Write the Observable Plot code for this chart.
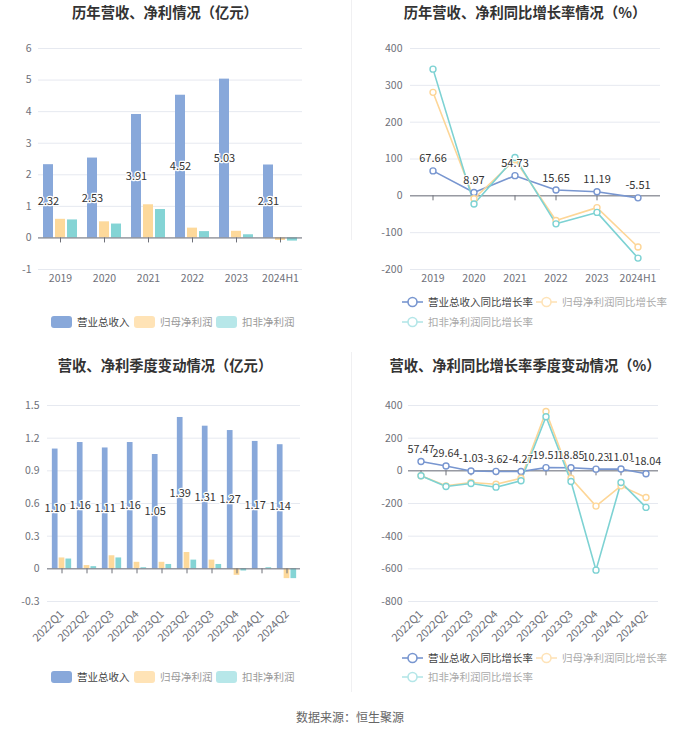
<!DOCTYPE html>
<html><head><meta charset="utf-8">
<script src="https://cdn.jsdelivr.net/npm/d3@7"></script>
<script src="https://cdn.jsdelivr.net/npm/@observablehq/plot@0.6"></script>
<style>
body{margin:0;background:#fff;font-family:"Noto Sans CJK SC","Noto Sans",sans-serif;}
#root{position:relative;width:700px;height:734px;overflow:hidden;background:#fff;}
.title{position:absolute;width:350px;text-align:center;font-size:14.3px;font-weight:bold;color:#333;line-height:20px;}
.panel{position:absolute;}
.item{position:absolute;display:flex;align-items:center;font-size:10.5px;white-space:nowrap;line-height:14px;}
.sw{display:inline-block;width:21px;height:12px;border-radius:3px;margin-right:5px;}
.divider{position:absolute;left:351px;width:1px;background:#f0f0f2;}
.footer{position:absolute;left:0;width:700px;text-align:center;top:708px;font-size:12px;color:#666;}
</style></head>
<body><div id="root"></div>
<script>
// ---- data ----
const years = ["2019","2020","2021","2022","2023","2024H1"];
const yearRevenue = [2.32,2.53,3.91,4.52,5.03,2.31];
const yearNetProfit = [0.59,0.51,1.05,0.31,0.21,-0.08];
const yearDeductedProfit = [0.57,0.44,0.90,0.20,0.10,-0.10];
const yearRevenueGrowth = [67.66,8.97,54.73,15.65,11.19,-5.51];
const yearNetProfitGrowth = [281,-8,98,-67,-32,-139];
const yearDeductedGrowth = [344,-22,104,-76,-45,-169];
const quarters = ["2022Q1","2022Q2","2022Q3","2022Q4","2023Q1","2023Q2","2023Q3","2023Q4","2024Q1","2024Q2"];
const qRevenue = [1.10,1.16,1.11,1.16,1.05,1.39,1.31,1.27,1.17,1.14];
const qNetProfit = [0.10,0.03,0.12,0.06,0.06,0.15,0.08,-0.06,0.00,-0.09];
const qDeductedProfit = [0.09,0.02,0.10,0.01,0.04,0.08,0.04,-0.02,0.01,-0.09];
const qRevenueGrowth = [57.47,29.64,-1.03,-3.62,-4.27,19.51,18.85,10.23,11.01,-18.04];
const qNetProfitGrowth = [-30,-92,-71,-82,-45,363,-45,-216,-92,-163];
const qDeductedGrowth = [-30,-96,-78,-100,-61,331,-65,-608,-71,-224];
const yearAmountTicks = [-1,0,1,2,3,4,5,6];
const yearRateTicks = [-200,-100,0,100,200,300,400];
const quarterAmountTicks = [-0.3,0,0.3,0.6,0.9,1.2,1.5];
const quarterRateTicks = [-800,-600,-400,-200,0,200,400];
const barSeriesNames = ["营业总收入","归母净利润","扣非净利润"];
const lineSeriesNames = ["营业总收入同比增长率","归母净利润同比增长率","扣非净利润同比增长率"];
const titles = ["历年营收、净利情况（亿元）","历年营收、净利同比增长率情况（%）","营收、净利季度变动情况（亿元）","营收、净利同比增长率季度变动情况（%）"];
const source = "数据来源：恒生聚源";

// ---- styles ----
const C = {blue:"#88A8DA", orange:"#FDD99B", teal:"#84D4D5",
  blueLine:"#7896D0", orangeLine:"#FDD697", tealLine:"#7DD2D3",
  grid:"#E6E9F0", axis:"#6E7079"};
const FONT = '"Noto Sans CJK SC","Noto Sans",sans-serif';
const root = document.getElementById("root");

function addDiv(cls, css, html){const d=document.createElement("div");d.className=cls;Object.assign(d.style,css);if(html!=null)d.innerHTML=html;root.appendChild(d);return d;}

function xAxis(o){
  return Plot.axisX({tickSize:0, tickPadding:o.xPad, tickRotate:o.rotate||0, color:C.axis, fontSize:o.rotate?11:10.5, label:null});
}

function barChart(cats, s1, s2, s3, ticks, o){
  const rows = cats.map((c,i)=>({c, v1:s1[i], v2:s2[i], v3:s3[i]}));
  const bw = (o.width - o.ml - o.mr)/cats.length;
  const inset = (bw - o.barW)/2;
  return Plot.plot({
    width:o.width, height:o.height, marginTop:o.mt, marginBottom:o.mb, marginLeft:o.ml, marginRight:o.mr,
    style:{fontFamily:FONT, background:"transparent", overflow:"visible"},
    x:{type:"band", domain:cats, padding:0},
    y:{domain:[ticks[0], ticks[ticks.length-1]]},
    marks:[
      Plot.gridY(ticks, {stroke:C.grid, strokeOpacity:1}),
      Plot.axisY(ticks, {tickSize:0, tickPadding:o.yPad, tickFormat:d=>String(d), color:C.axis, fontSize:10.5, label:null}),
      xAxis(o),
      Plot.barY(rows, {x:"c", y:"v1", fill:C.blue, insetLeft:inset, insetRight:inset, dx:-o.step}),
      Plot.barY(rows, {x:"c", y:"v2", fill:C.orange, insetLeft:inset, insetRight:inset}),
      Plot.barY(rows, {x:"c", y:"v3", fill:C.teal, insetLeft:inset, insetRight:inset, dx:o.step}),
      Plot.ruleY([0], {stroke:C.axis}),
      Plot.ruleX(cats, {x:d=>d, y1:0, y2:0, insetBottom:-5, stroke:C.axis}),
      Plot.text(rows, {x:"c", y:d=>d.v1/2, text:d=>d.v1.toFixed(2), dx:-o.step, fill:"#333", stroke:"#fff", strokeWidth:2.5, fontSize:11})
    ]
  });
}

function lineChart(cats, s1, s2, s3, ticks, o){
  const rows = cats.map((c,i)=>({c, v1:s1[i], v2:s2[i], v3:s3[i]}));
  const series = [["v1",C.blueLine],["v2",C.orangeLine],["v3",C.tealLine]];
  const marks = [
    Plot.gridY(ticks, {stroke:C.grid, strokeOpacity:1}),
    Plot.axisY(ticks, {tickSize:0, tickPadding:o.yPad, tickFormat:d=>String(d), color:C.axis, fontSize:10.5, label:null}),
    xAxis(o),
    Plot.ruleY([0], {stroke:C.axis}),
    Plot.ruleX(cats, {x:d=>d, y1:0, y2:0, insetBottom:-5, stroke:C.axis})
  ];
  for (const [k,col] of series) marks.push(Plot.line(rows, {x:"c", y:k, stroke:col, strokeWidth:1.6}));
  for (const [k,col] of series) marks.push(Plot.dot(rows, {x:"c", y:k, stroke:col, fill:"#fff", r:3, strokeWidth:1.4}));
  marks.push(Plot.text(rows, {x:"c", y:"v1", text:d=>d.v1.toFixed(2), dy:-12, fill:"#333", stroke:"#fff", strokeWidth:2, fontSize:o.labelSize||11}));
  return Plot.plot({
    width:o.width, height:o.height, marginTop:o.mt, marginBottom:o.mb, marginLeft:o.ml, marginRight:o.mr,
    style:{fontFamily:FONT, background:"transparent", overflow:"visible"},
    x:{type:"band", domain:cats, padding:0},
    y:{domain:[ticks[0], ticks[ticks.length-1]]},
    marks
  });
}

function barLegend(top){
  const pos=[51,134,216], cols=[C.blue,"#FFE3B6","#B7E7E9"], tc=["#444","#999","#999"];
  barSeriesNames.forEach((n,i)=>{
    addDiv("item",{left:pos[i]+"px", top:(top-7)+"px", color:tc[i]}, `<span class="sw" style="background:${cols[i]}"></span>${n}`);
  });
}
function lineLegend(top1, top2){
  const spec=[[402,top1,"#7896D0","#444"],[536,top1,"#FEE3B8","#aaa"],[402,top2,"#B4E6E8","#aaa"]];
  lineSeriesNames.forEach((n,i)=>{
    const [x,y,col,tc]=spec[i];
    const icon=`<svg width="21" height="12" style="margin-right:5px"><line x1="0" y1="6" x2="21" y2="6" stroke="${col}" stroke-width="1.6"/><circle cx="10.5" cy="6" r="4.5" fill="#fff" stroke="${col}" stroke-width="1.6"/></svg>`;
    addDiv("item",{left:x+"px", top:(y-7)+"px", color:tc}, icon+n);
  });
}

// dividers
addDiv("divider",{top:"0px",height:"240px"});
addDiv("divider",{top:"352px",height:"340px"});

// titles
addDiv("title",{left:"-10px",top:"2px"},titles[0]);
addDiv("title",{left:"350px",top:"2px"},titles[1]);
addDiv("title",{left:"-10px",top:"355px"},titles[2]);
addDiv("title",{left:"350px",top:"355px"},titles[3]);

// panel 1
const p1 = addDiv("panel",{left:"0px",top:"30px"});
p1.appendChild(barChart(years, yearRevenue, yearNetProfit, yearDeductedProfit, yearAmountTicks,
  {width:350,height:270,mt:18,mb:31,ml:38,mr:48,barW:10,step:12,yPad:7,xPad:5}));
barLegend(322);

// panel 2
const p2 = addDiv("panel",{left:"350px",top:"30px"});
p2.appendChild(lineChart(years, yearRevenueGrowth, yearNetProfitGrowth, yearDeductedGrowth, yearRateTicks,
  {width:350,height:270,mt:18,mb:31,ml:60,mr:40,yPad:8,xPad:5}));
lineLegend(302,322);

// panel 3
const p3 = addDiv("panel",{left:"0px",top:"390px"});
p3.appendChild(barChart(quarters, qRevenue, qNetProfit, qDeductedProfit, quarterAmountTicks,
  {width:350,height:260,mt:15,mb:49,ml:47,mr:50,barW:6,step:6.8,yPad:8,xPad:11,rotate:-45}));
barLegend(677);

// panel 4
const p4 = addDiv("panel",{left:"350px",top:"390px"});
p4.appendChild(lineChart(quarters, qRevenueGrowth, qNetProfitGrowth, qDeductedGrowth, quarterRateTicks,
  {width:350,height:260,mt:15,mb:49,ml:58,mr:42,yPad:6,xPad:11,rotate:-45,labelSize:10.8}));
lineLegend(658,677);

addDiv("footer",{},source);
</script></body></html>
